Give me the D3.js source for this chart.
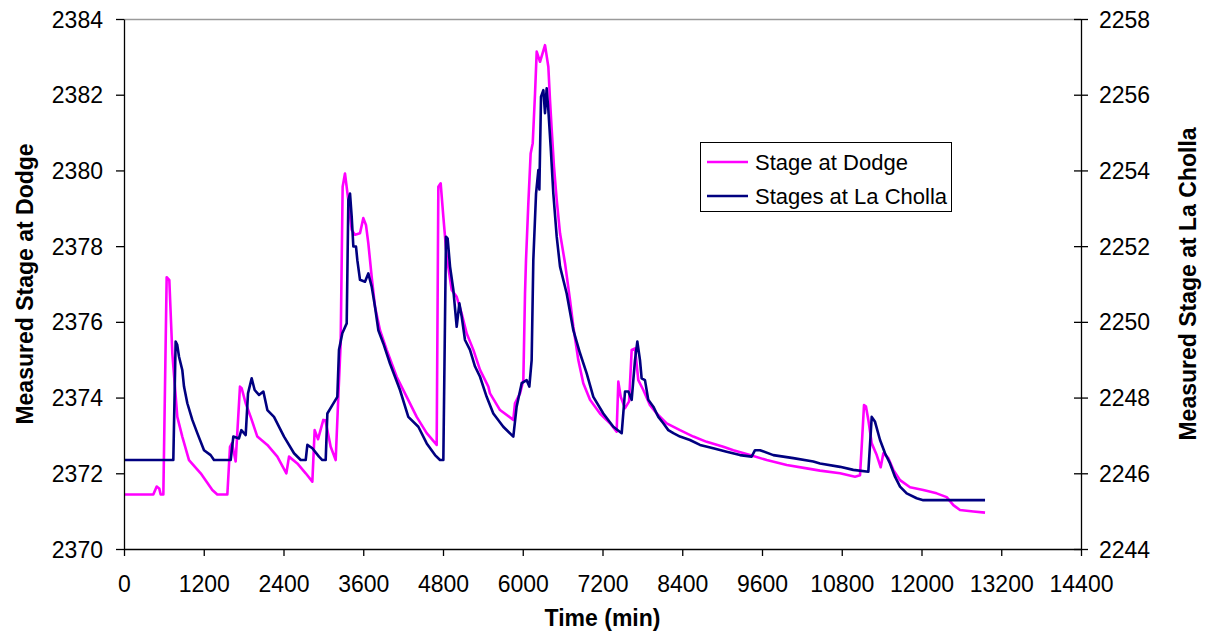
<!DOCTYPE html>
<html>
<head>
<meta charset="utf-8">
<script src="https://cdn.jsdelivr.net/npm/d3@7"></script>
<style>
  html, body { margin: 0; padding: 0; background: #fff; }
  svg text { font-family: "Liberation Sans", Arial, sans-serif; fill: #000; }
</style>
</head>
<body>
<svg id="chart" width="1206" height="631"></svg>
<script>
  'use strict';

  const W = 1206;
  const H = 631;
  const M = { left: 124, right: 1081, top: 19, bottom: 549 };
  const FONT = 23;

  const xTicks = [0, 1200, 2400, 3600, 4800, 6000, 7200, 8400, 9600, 10800, 12000, 13200, 14400];
  const leftTicks = [2370, 2372, 2374, 2376, 2378, 2380, 2382, 2384];
  const rightTicks = [2244, 2246, 2248, 2250, 2252, 2254, 2256, 2258];

  const seriesNames = ['Stage at Dodge', 'Stages at La Cholla'];
  const seriesColors = ['#FF00FF', '#000080'];

  // time (min), stage (ft)
  const dodge = [
    [0, 2371.44], [441, 2371.44], [492, 2371.65], [530, 2371.6], [552, 2371.44], [592, 2371.44],
    [642, 2377.18], [682, 2377.1], [727, 2375.17], [802, 2373.49], [877, 2372.97], [978, 2372.35],
    [1154, 2372.0], [1329, 2371.56], [1404, 2371.44], [1555, 2371.44], [1595, 2372.7], [1625, 2372.8],
    [1680, 2372.31], [1745, 2374.29], [1770, 2374.25], [1831, 2373.85], [1906, 2373.49], [2006, 2372.97],
    [2157, 2372.75], [2307, 2372.44], [2443, 2372.0], [2483, 2372.44], [2608, 2372.26], [2734, 2372.0],
    [2834, 2371.78], [2869, 2373.14], [2920, 2372.9], [2999, 2373.41], [3030, 2373.4], [3110, 2372.7],
    [3185, 2372.35], [3225, 2374.02], [3260, 2375.43], [3290, 2379.57], [3325, 2379.92], [3375, 2379.22],
    [3426, 2378.43], [3476, 2378.3], [3551, 2378.34], [3601, 2378.74], [3641, 2378.56], [3676, 2378.08],
    [3727, 2377.19], [3777, 2376.4], [3852, 2375.78], [3953, 2375.26], [4103, 2374.55], [4254, 2374.02],
    [4404, 2373.49], [4555, 2373.06], [4705, 2372.75], [4730, 2379.57], [4765, 2379.66], [4805, 2378.78],
    [4856, 2377.72], [4931, 2376.84], [5006, 2376.66], [5081, 2376.22], [5157, 2375.69], [5257, 2375.26],
    [5357, 2374.73], [5482, 2374.29], [5507, 2374.11], [5658, 2373.67], [5858, 2373.41], [5883, 2373.85],
    [5959, 2374.11], [6009, 2374.46], [6034, 2376.75], [6049, 2377.63], [6084, 2379.13], [6119, 2380.45],
    [6150, 2380.72], [6185, 2382.04], [6210, 2383.14], [6260, 2382.87], [6335, 2383.31], [6385, 2382.74],
    [6410, 2381.86], [6436, 2381.07], [6470, 2380.1], [6511, 2379.22], [6561, 2378.34], [6636, 2377.55],
    [6711, 2376.58], [6761, 2375.87], [6836, 2374.99], [6911, 2374.38], [7012, 2373.94], [7162, 2373.58],
    [7313, 2373.32], [7413, 2373.1], [7438, 2374.42], [7474, 2374.02], [7539, 2373.72], [7600, 2373.9],
    [7639, 2375.26], [7689, 2375.3], [7739, 2374.46], [7814, 2374.2], [7915, 2373.8], [8015, 2373.58],
    [8166, 2373.32], [8366, 2373.14], [8567, 2372.97], [8768, 2372.83], [9018, 2372.7], [9169, 2372.61],
    [9420, 2372.48], [9671, 2372.35], [9972, 2372.22], [10273, 2372.13], [10473, 2372.07], [10774, 2372.0],
    [11000, 2371.91], [11075, 2371.95], [11100, 2372.7], [11135, 2373.8], [11165, 2373.76], [11200, 2373.41],
    [11251, 2372.79], [11326, 2372.48], [11386, 2372.16], [11426, 2372.53], [11501, 2372.4], [11576, 2372.09],
    [11677, 2371.82], [11827, 2371.63], [12027, 2371.56], [12228, 2371.47], [12379, 2371.37], [12479, 2371.16],
    [12579, 2371.03], [12780, 2370.99], [12956, 2370.96]
  ];

  const laCholla = [
    [0, 2246.35], [742, 2246.35], [777, 2249.48], [800, 2249.4], [828, 2249.08], [877, 2248.73],
    [903, 2248.29], [953, 2247.85], [1028, 2247.41], [1103, 2247.06], [1204, 2246.61], [1304, 2246.48],
    [1354, 2246.35], [1605, 2246.35], [1645, 2246.97], [1730, 2246.92], [1766, 2247.14], [1831, 2247.01],
    [1866, 2248.11], [1921, 2248.51], [1966, 2248.2], [2031, 2248.07], [2097, 2248.16], [2157, 2247.67],
    [2257, 2247.49], [2408, 2246.97], [2558, 2246.53], [2659, 2246.35], [2734, 2246.35], [2759, 2246.75],
    [2834, 2246.66], [2934, 2246.44], [2984, 2246.35], [3035, 2246.35], [3060, 2247.58], [3135, 2247.8],
    [3210, 2248.02], [3235, 2249.26], [3285, 2249.7], [3351, 2249.96], [3376, 2253.22], [3401, 2253.39],
    [3426, 2252.78], [3451, 2251.99], [3491, 2251.99], [3511, 2251.63], [3551, 2251.11], [3626, 2251.06],
    [3676, 2251.28], [3727, 2250.93], [3777, 2250.4], [3827, 2249.78], [3902, 2249.43], [4002, 2248.9],
    [4153, 2248.2], [4278, 2247.49], [4429, 2247.23], [4555, 2246.79], [4680, 2246.48], [4755, 2246.35],
    [4805, 2246.35], [4845, 2252.25], [4870, 2252.2], [4906, 2251.46], [4956, 2250.84], [5006, 2249.87],
    [5046, 2250.49], [5081, 2250.14], [5131, 2249.52], [5206, 2249.26], [5282, 2248.82], [5357, 2248.55],
    [5457, 2248.02], [5557, 2247.58], [5707, 2247.23], [5858, 2246.97], [5908, 2247.76], [5984, 2248.38],
    [6059, 2248.46], [6099, 2248.29], [6134, 2248.99], [6159, 2251.63], [6200, 2253.39], [6235, 2254.01],
    [6250, 2253.5], [6275, 2255.95], [6310, 2256.12], [6335, 2255.51], [6360, 2256.17], [6385, 2255.6],
    [6420, 2254.63], [6460, 2253.39], [6511, 2252.25], [6561, 2251.46], [6661, 2250.75], [6761, 2249.78],
    [6862, 2249.17], [6962, 2248.64], [7062, 2248.02], [7212, 2247.58], [7363, 2247.23], [7489, 2247.06],
    [7539, 2248.16], [7589, 2248.16], [7639, 2247.94], [7689, 2248.99], [7724, 2249.48], [7764, 2248.99],
    [7789, 2248.51], [7839, 2248.46], [7889, 2247.94], [7965, 2247.76], [8040, 2247.49], [8115, 2247.32],
    [8190, 2247.14], [8266, 2247.06], [8366, 2246.97], [8516, 2246.88], [8667, 2246.75], [8867, 2246.66],
    [9068, 2246.57], [9269, 2246.48], [9444, 2246.44], [9495, 2246.61], [9570, 2246.61], [9770, 2246.48],
    [10071, 2246.4], [10372, 2246.31], [10473, 2246.26], [10774, 2246.17], [10974, 2246.09], [11200, 2246.04],
    [11251, 2247.49], [11301, 2247.36], [11376, 2246.88], [11451, 2246.53], [11526, 2246.26], [11601, 2245.91],
    [11677, 2245.65], [11777, 2245.47], [11927, 2245.34], [12027, 2245.29], [12956, 2245.29]
  ];

  const svg = d3.select('#chart');

  const x = d3.scaleLinear().domain([0, 14400]).range([M.left, M.right]);
  const yL = d3.scaleLinear().domain([2370, 2384]).range([M.bottom, M.top]);
  const yR = d3.scaleLinear().domain([2244, 2258]).range([M.bottom, M.top]);

  // plot area border, only the top edge is visible
  svg.append('line')
    .attr('x1', M.left).attr('x2', M.right)
    .attr('y1', M.top + 0.5).attr('y2', M.top + 0.5)
    .attr('stroke', '#9a9a9a').attr('stroke-width', 1.5);

  const line = yScale => d3.line().x(d => x(d[0])).y(d => yScale(d[1]));

  svg.append('path')
    .datum(dodge)
    .attr('fill', 'none')
    .attr('stroke', seriesColors[0])
    .attr('stroke-width', 2.6)
    .attr('stroke-linejoin', 'round')
    .attr('d', line(yL));

  svg.append('path')
    .datum(laCholla)
    .attr('fill', 'none')
    .attr('stroke', seriesColors[1])
    .attr('stroke-width', 2.6)
    .attr('stroke-linejoin', 'round')
    .attr('d', line(yR));

  // axes
  const gx = svg.append('g')
    .attr('transform', `translate(0,${M.bottom})`)
    .call(d3.axisBottom(x).tickValues(xTicks).tickSize(7).tickSizeOuter(0).tickFormat(d3.format('d')));

  const gl = svg.append('g')
    .attr('transform', `translate(${M.left},0)`)
    .call(d3.axisLeft(yL).tickValues(leftTicks).tickSize(8).tickSizeOuter(0).tickFormat(d3.format('d')));

  const gr = svg.append('g')
    .attr('transform', `translate(${M.right},0)`)
    .call(d3.axisRight(yR).tickValues(rightTicks).tickSize(7).tickSizeOuter(0).tickFormat(d3.format('d')));

  [gx, gl, gr].forEach(g => {
    g.select('.domain').attr('stroke', '#000').attr('stroke-width', 1.3);
    g.selectAll('.tick line').attr('stroke', '#000').attr('stroke-width', 1.3);
    g.selectAll('.tick text')
      .attr('font-size', FONT)
      .attr('font-family', '"Liberation Sans", Arial, sans-serif')
      .attr('fill', '#000');
  });

  gr.selectAll('.tick line').attr('x1', -7).attr('x2', 7);

  gx.selectAll('.tick text').attr('y', 34.5).attr('dy', '0.35em');
  gl.selectAll('.tick text').attr('x', -21).attr('dy', '0.35em');
  gr.selectAll('.tick text').attr('x', 18).attr('dy', '0.35em');

  // axis titles
  svg.append('text')
    .attr('x', (M.left + M.right) / 2)
    .attr('y', 626)
    .attr('text-anchor', 'middle')
    .attr('font-size', FONT)
    .attr('font-weight', 'bold')
    .text('Time (min)');

  svg.append('text')
    .attr('transform', `translate(33,${(M.top + M.bottom) / 2}) rotate(-90)`)
    .attr('text-anchor', 'middle')
    .attr('font-size', FONT)
    .attr('font-weight', 'bold')
    .text('Measured Stage at Dodge');

  svg.append('text')
    .attr('transform', `translate(1196,${(M.top + M.bottom) / 2}) rotate(-90)`)
    .attr('text-anchor', 'middle')
    .attr('font-size', FONT)
    .attr('font-weight', 'bold')
    .text('Measured Stage at La Cholla');

  // legend
  const LEG = { x: 700, y: 142, w: 251, h: 69 };
  const leg = svg.append('g');
  leg.append('rect')
    .attr('x', LEG.x + 0.5).attr('y', LEG.y + 0.5)
    .attr('width', LEG.w).attr('height', LEG.h)
    .attr('fill', '#fff').attr('stroke', '#000').attr('stroke-width', 1);

  const legRows = [162, 196];
  seriesNames.forEach((name, i) => {
    leg.append('line')
      .attr('x1', 707).attr('x2', 748)
      .attr('y1', legRows[i]).attr('y2', legRows[i])
      .attr('stroke', seriesColors[i]).attr('stroke-width', 2.6);
    leg.append('text')
      .attr('x', 755)
      .attr('y', legRows[i] + 7.5)
      .attr('font-size', 22)
      .text(name);
  });
</script>
</body>
</html>
